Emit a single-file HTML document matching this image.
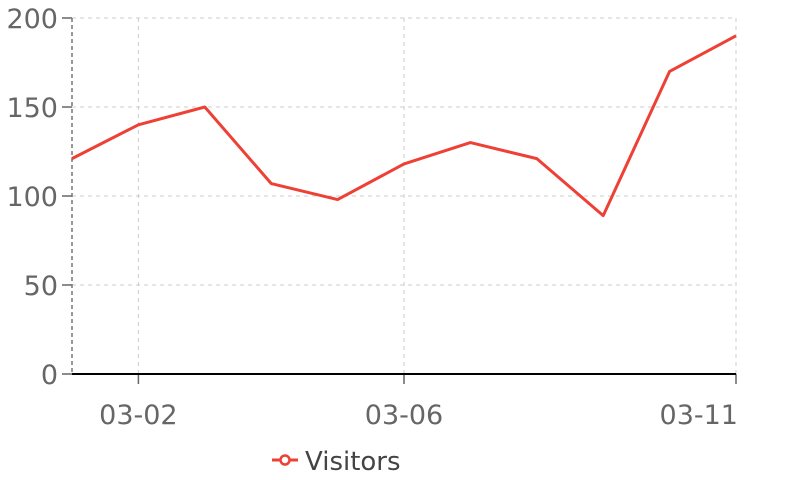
<!DOCTYPE html>
<html><head><meta charset="utf-8"><style>
body{margin:0;background:#fff;}
svg{display:block;font-family:"DejaVu Sans","Liberation Sans",sans-serif;}
</style></head><body>
<svg id="chart" width="800" height="480"></svg>
<script>
const categories=["03-01","03-02","03-03","03-04","03-05","03-06","03-07","03-08","03-09","03-10","03-11"];
const visitors=[121,140,150,107,98,118,130,121,89,170,190];
const yTicks=[0,50,100,150,200];
const xTickLabels=["03-02","03-06","03-11"];
const NS="http://www.w3.org/2000/svg";
const svg=document.getElementById('chart');
const x0=72,x1=736,y0=374,y1=18;
function xs(i){return x0+(x1-x0)*i/(categories.length-1);}
function ys(v){return y0-(y0-y1)*v/200;}
function mk(t,a,p){const e=document.createElementNS(NS,t);for(const k in a)e.setAttribute(k,a[k]);(p||svg).appendChild(e);return e;}
yTicks.forEach(v=>{
  const y=ys(v);
  if(v>0){const g=mk('line',{x1:x0,x2:x1,y1:y,y2:y,stroke:'#ccc','stroke-dasharray':'4,4','stroke-width':1});
  
  }
  mk('line',{x1:62,x2:x0,y1:y,y2:y,stroke:'#666','stroke-width':1.5});
  const t=mk('text',{x:58,y:y+10,'text-anchor':'end','font-size':27,fill:'#666'});
  t.textContent=v;
  
  
});
xTickLabels.forEach((lbl,k)=>{
  const x=xs(categories.indexOf(lbl));
  const g=mk('line',{x1:x,x2:x,y1:y1,y2:y0,stroke:'#ccc','stroke-dasharray':'4,4','stroke-width':1});
  
  
  mk('line',{x1:x,x2:x,y1:y0,y2:y0+10,stroke:'#666','stroke-width':1.5});
  const last=k===xTickLabels.length-1;
  const t=mk('text',{x:last?x+2:x,y:424,'text-anchor':last?'end':'middle','font-size':27,fill:'#666'});
  t.textContent=lbl;
  
  
});
const ya=mk('line',{x1:x0,x2:x0,y1:y1,y2:y0,stroke:'#777','stroke-dasharray':'4,3','stroke-width':1.5});


const xa=mk('line',{x1:x0,x2:x1,y1:y0,y2:y0,stroke:'#000','stroke-width':2});


const pts=visitors.map((v,i)=>xs(i)+','+ys(v)).join(' ');
const line=mk('polyline',{points:pts,fill:'none',stroke:'#ee4035','stroke-width':3,'stroke-linejoin':'round'});


const lg=mk('g',{});


mk('line',{x1:272,x2:298,y1:460,y2:460,stroke:'#ee4035','stroke-width':3},lg);
mk('circle',{cx:285,cy:460,r:4.5,fill:'#fff',stroke:'#ee4035','stroke-width':2.5},lg);
const lt=mk('text',{x:305,y:470,'font-size':26,fill:'#444'},lg);
lt.textContent='Visitors';
</script>
</body></html>
